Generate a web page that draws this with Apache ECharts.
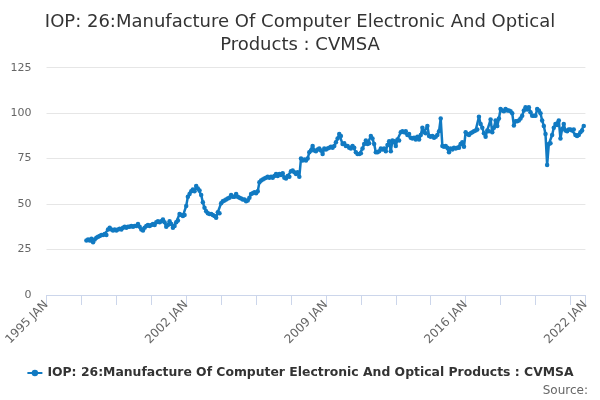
<!DOCTYPE html>
<html>
<head>
<meta charset="utf-8">
<script src="https://cdn.jsdelivr.net/npm/echarts@6/dist/echarts.min.js"></script>
<style>
html,body{margin:0;padding:0;background:#fff;}
#chart{width:600px;height:400px;}
</style>
</head>
<body>
<div id="chart"></div>
<script>
var titleText = 'IOP: 26:Manufacture Of Computer Electronic And Optical\nProducts : CVMSA';
var seriesName = 'IOP: 26:Manufacture Of Computer Electronic And Optical Products : CVMSA';
var sourceText = 'Source:';
var yTicks = [0, 25, 50, 75, 100, 125];
var xLabelYears = [1995, 2002, 2009, 2016, 2022];

// monthly values, January to December
var v1997_2001 = [
  30, 30.5, 30, 31, 29, 30.5, 31.5, 32, 32.5, 33, 33, 33.5,
  33, 36, 37, 36, 35.5, 36, 35.5, 36, 36.5, 36, 37, 37.5,
  37, 37.5, 37.5, 38, 37.5, 38, 38, 39, 37.5, 36, 35.5, 37,
  38, 38.5, 38, 38.5, 39, 38.5, 40, 40.5, 40, 40.5, 41.5, 40,
  37.5, 38.5, 40.5, 39, 37, 38, 40, 41, 44.5, 44, 43.5, 44
];
var v2002_2006 = [
  49, 54, 55.5, 57, 58, 57, 60, 58.5, 57.5, 55, 51, 48,
  46, 45, 44.5, 44.5, 44, 43.5, 42.5, 45.5, 45, 50.5, 51.5, 52,
  52.5, 53, 53.5, 55, 54, 54, 55.5, 54, 53.5, 53, 52.5, 52.5,
  51.5, 52, 53.5, 55.5, 56, 56.5, 56, 57, 62, 63, 63.5, 64,
  64.5, 65, 64.5, 65, 64.5, 65.5, 66.5, 65.5, 66.5, 66, 67, 64.5
];
var v2007_2011 = [
  64, 65.5, 65, 68, 68.5, 67.5, 66.5, 67.5, 65, 75, 74, 74.5,
  74, 75, 78.5, 79.5, 82, 79.5, 79, 80, 80.5, 79.5, 77.5, 80.5,
  80, 80.5, 81, 81.5, 81, 82, 84, 86, 88.5, 87.5, 83, 83.5,
  82, 82, 81, 80.5, 82, 81, 78.5, 77.5, 77.5, 78, 80.5, 83,
  85, 83, 83.5, 87.5, 86, 83, 78.5, 78.5, 79, 80.5, 80, 80.5
];
var v2012_2016 = [
  79, 82.5, 84.5, 79, 85, 84.5, 82, 85.5, 85, 89.5, 90, 89.5,
  90, 88, 88.5, 86.5, 86, 86.5, 85.5, 87, 85.5, 88, 92, 89.5,
  89, 93, 87.5, 87, 87.5, 86.5, 87, 88, 90, 97, 82, 81.5,
  82, 81, 78.5, 80.5, 80, 81, 80.5, 81, 81, 83, 84, 81.5,
  89.5, 88.5, 88, 89, 89.5, 90, 90.5, 91, 98, 94, 92, 89
];
var v2017_2021 = [
  87, 90.5, 90, 96.5, 89.5, 92, 96, 93, 97, 102.3, 101.5, 101,
  102.3, 101.5, 101.5, 101, 100, 93.2, 95.5, 95.5, 96, 97, 98.6, 101.5,
  103.2, 102, 103.2, 100.5, 98.6, 98.6, 98.6, 102.3, 101.5, 100, 96, 93,
  88.6, 71.5, 83, 83.5, 88, 92, 94, 93.5, 96, 86, 91.3, 94,
  90.5, 90, 91, 91, 90.5, 91, 88, 87.5, 88, 89.5, 90.5, 93
];
var blockStarts = [1997, 2002, 2007, 2012, 2017];
var blocks = [v1997_2001, v2002_2006, v2007_2011, v2012_2016, v2017_2021];

var points = [];
blocks.forEach(function (arr, b) {
  arr.forEach(function (v, i) {
    points.push([blockStarts[b] + i / 12, v]);
  });
});

var FONT = 'DejaVu Sans';
var chart = echarts.init(document.getElementById('chart'), null, {renderer: 'canvas'});
chart.setOption({
  animation: false,
  backgroundColor: '#ffffff',
  title: {
    text: titleText,
    left: 'center',
    top: 6,
    textStyle: {fontFamily: FONT, fontSize: 18, fontWeight: 'normal', color: '#333333', lineHeight: 23}
  },
  legend: {
    bottom: 16,
    left: 'center',
    itemWidth: 15,
    itemHeight: 8,
    textStyle: {fontFamily: FONT, fontSize: 12.4, fontWeight: 'bold', color: '#333333'},
    data: [seriesName]
  },
  graphic: [{
    type: 'text',
    right: 12,
    bottom: 3,
    style: {text: sourceText, font: '12px "DejaVu Sans"', fill: '#666666'}
  }],
  grid: {left: 46.5, right: 14.6, top: 67.7, bottom: 105},
  xAxis: {
    type: 'value',
    min: 1995,
    max: 2022,
    interval: 1.75,
    axisLine: {show: true, lineStyle: {color: '#ccd6eb'}},
    axisTick: {show: true, length: 10, lineStyle: {color: '#ccd6eb'}},
    splitLine: {show: false},
    axisLabel: {
      rotate: 45,
      showMaxLabel: true,
      showMinLabel: true,
      fontFamily: FONT,
      fontSize: 12,
      color: '#666666',
      margin: 8,
      formatter: function (v) {
        for (var i = 0; i < xLabelYears.length; i++) {
          if (Math.abs(v - xLabelYears[i]) < 1e-6) return xLabelYears[i] + ' JAN';
        }
        return '';
      }
    }
  },
  yAxis: {
    type: 'value',
    min: yTicks[0],
    max: yTicks[yTicks.length - 1],
    interval: 25,
    axisLine: {show: false},
    axisTick: {show: false},
    splitLine: {lineStyle: {color: '#e6e6e6'}},
    axisLabel: {fontFamily: FONT, fontSize: 11, color: '#666666', margin: 15}
  },
  series: [{
    name: seriesName,
    type: 'line',
    data: points,
    color: '#117ac2',
    symbol: 'circle',
    symbolSize: 4.5,
    showSymbol: true,
    lineStyle: {width: 2.5, color: '#117ac2'},
    itemStyle: {color: '#117ac2'}
  }]
});
</script>
</body>
</html>
